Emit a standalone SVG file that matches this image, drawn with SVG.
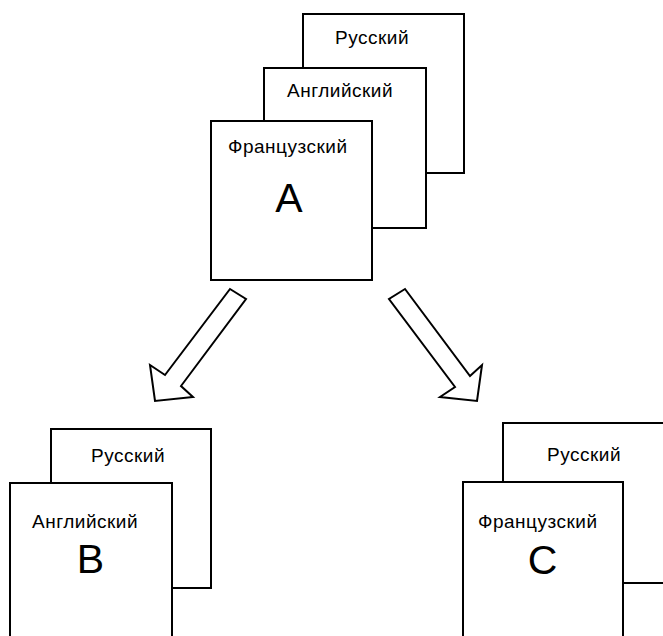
<svg xmlns="http://www.w3.org/2000/svg" width="663" height="636" viewBox="0 0 663 636">
<style>
.page{fill:#fff;stroke:#000;stroke-width:2}
.lbl{font-family:"Liberation Sans",Arial,sans-serif;font-size:19px;fill:#000;letter-spacing:0.5px}
.big{font-family:"Liberation Sans",Arial,sans-serif;font-size:41px;fill:#000;text-anchor:middle}
.arrow{fill:#fff;stroke:#000;stroke-width:2;stroke-linejoin:miter}
</style>
<rect width="663" height="636" fill="#fff"/>
<g id="nodeA">
<rect class="page" x="303" y="14" width="161" height="159"/>
<text class="lbl" x="335" y="44">Русский</text>
<rect class="page" x="264" y="68" width="162" height="160"/>
<text class="lbl" x="287" y="97">Английский</text>
<rect class="page" x="211" y="121" width="161" height="159"/>
<text class="lbl" x="228" y="153">Французский</text>
<text class="big" x="289" y="212">A</text>
</g>
<g id="nodeB">
<rect class="page" x="51" y="429" width="160" height="159"/>
<text class="lbl" x="91" y="462">Русский</text>
<rect class="page" x="10" y="483" width="162" height="170"/>
<text class="lbl" x="32" y="528">Английский</text>
<text class="big" x="90.5" y="573">B</text>
</g>
<g id="nodeC">
<rect class="page" x="503" y="423" width="161" height="160"/>
<text class="lbl" x="547" y="461">Русский</text>
<rect class="page" x="463" y="482" width="160" height="170"/>
<text class="lbl" x="478" y="528">Французский</text>
<text class="big" x="542.5" y="574">C</text>
</g>
<g id="connectors">
<polygon class="arrow" points="230,289 246,299 181,386 193,397 155,401 150,365 165,375"/>
<polygon class="arrow" points="405,289 389,299 455,387 440,397 477,401 482,365 470,376"/>
</g>
</svg>
